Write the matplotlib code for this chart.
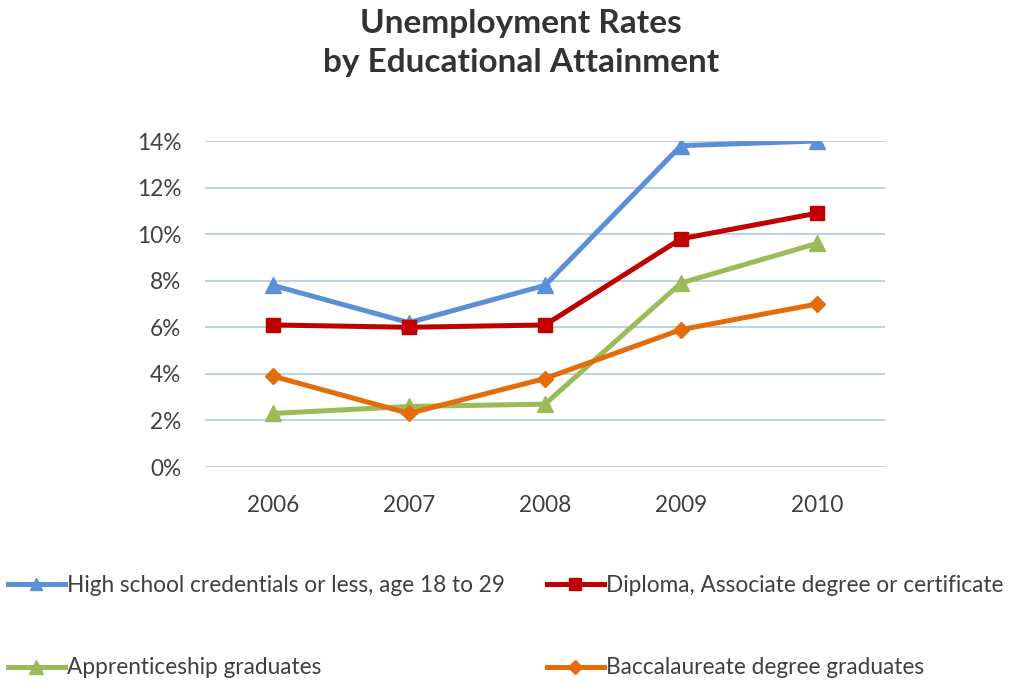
import matplotlib
matplotlib.use('Agg')
import matplotlib.pyplot as plt
from matplotlib.lines import Line2D

years = ['2006', '2007', '2008', '2009', '2010']
high_school = [7.8, 6.2, 7.8, 13.8, 14.0]
diploma = [6.1, 6.0, 6.1, 9.8, 10.9]
apprentice = [2.3, 2.6, 2.7, 7.9, 9.6]
baccalaureate = [3.9, 2.3, 3.8, 5.9, 7.0]
y_ticks = [0, 2, 4, 6, 8, 10, 12, 14]

plt.rcParams['font.family'] = ['Lato', 'DejaVu Sans']

series = [
    ('High school credentials or less, age 18 to 29', high_school, '#5B8FD6', '^', 11),
    ('Diploma, Associate degree or certificate', diploma, '#C00000', 's', 10),
    ('Apprenticeship graduates', apprentice, '#9BBB59', '^', 12),
    ('Baccalaureate degree graduates', baccalaureate, '#E46C0A', 'D', 8),
]

fig = plt.figure(figsize=(10.15, 6.82), dpi=100)
ax = fig.add_axes([205 / 1015, 1 - 467 / 682, 680 / 1015, 326 / 682])

x = list(range(len(years)))
for label, vals, color, marker, ms in series:
    ax.plot(x, vals, color=color, linewidth=3.6, marker=marker, markersize=ms,
            label=label, solid_joinstyle='round', solid_capstyle='round')

ax.set_xlim(-0.5, len(years) - 0.5)
ax.set_ylim(0, 14)
ax.set_yticks(y_ticks)
ax.set_yticklabels([f'{v}%' for v in y_ticks])
ax.set_xticks(x)
ax.set_xticklabels(years)
ax.tick_params(axis='both', length=0, labelsize=16.3, colors='#404040')
ax.tick_params(axis='x', pad=20)
ax.tick_params(axis='y', pad=17)
ax.grid(axis='y', color='#B9CDE5', linewidth=1.3)
ax.set_axisbelow(True)
for s in ax.spines.values():
    s.set_visible(False)

fig.text(0.513, 1 - 43 / 682, 'Unemployment Rates\nby Educational Attainment', ha='center',
         va='center', fontsize=24, fontweight='bold', color='#333333', linespacing=1.45)

# legend entries placed individually in a 2x2 grid
anchors = [(8, 585), (547, 585), (8, 668), (547, 668)]
for (label, vals, color, marker, ms), (px, py) in zip(series, anchors):
    h = Line2D([], [], color=color, linewidth=3.6, marker=marker, markersize=ms * 0.85)
    fig.legend([h], [label], loc='center left',
               bbox_to_anchor=(px / 1015, 1 - py / 682), frameon=False,
               fontsize=16.3, handlelength=2.5, handletextpad=0.1,
               borderaxespad=0, borderpad=0, labelcolor='#404040')

fig.savefig('out.png', dpi=100)
